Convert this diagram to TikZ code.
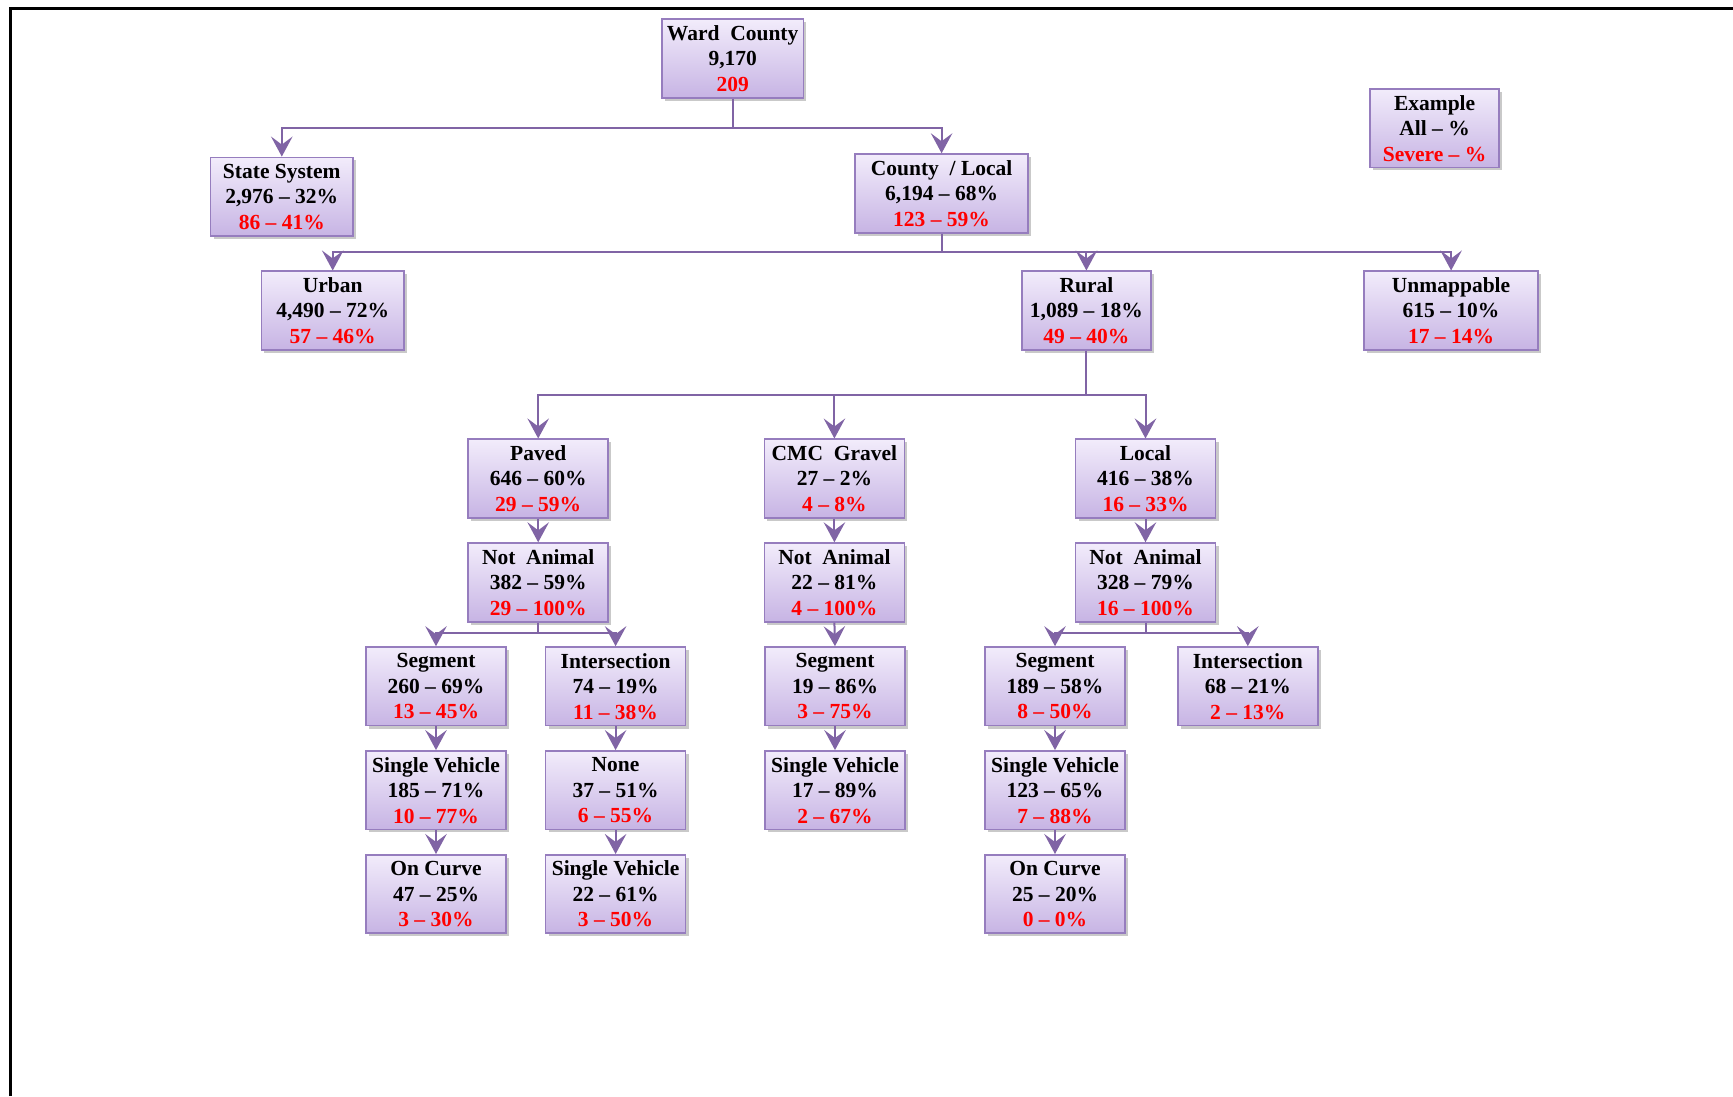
\documentclass[tikz,border=0pt]{standalone}
\usepackage{fontspec}
\setmainfont{Liberation Serif}
\usetikzlibrary{arrows.meta,shadows}
\definecolor{boxtop}{RGB}{242,236,251}
\definecolor{boxbot}{RGB}{199,180,228}
\definecolor{boxline}{RGB}{150,125,190}
\definecolor{connline}{RGB}{128,100,165}
\definecolor{sevred}{RGB}{255,0,0}
\tikzset{
  box/.style={draw=boxline, line width=0.7pt, top color=boxtop, bottom color=boxbot,
    minimum width=56pt, minimum height=31.4pt, inner sep=0pt, align=center,
    font={\fontsize{8.6}{10.2}\selectfont\bfseries},
    drop shadow={shadow xshift=1.2pt, shadow yshift=-1.2pt, opacity=0.35, fill=black!60}},
  conn/.style={draw=connline, line width=0.8pt, -{Stealth[length=8pt,width=8.6pt,inset=3.2pt]}},
  plainconn/.style={draw=connline, line width=0.8pt},
}
\newcommand{\sev}[1]{\textcolor{sevred}{#1}}
\begin{document}
\begin{tikzpicture}[x=0.4pt,y=-0.4pt]
\useasboundingbox (0,0) rectangle (1733,1096);
\fill[white] (0,0) rectangle (1733,1096);
\draw[line width=1.2pt] (10,1096) -- (10,8) -- (1733,8);

% nodes
\node[box, minimum width=56.6pt] (ward) at (732.7,58.6) {Ward~~County\\9,170\\\sev{209}};
\node[box, minimum width=57pt] (state) at (281.8,196.7) {State System\\2,976 – 32\%\\\sev{86 – 41\%}};
\node[box, minimum width=69.4pt] (county) at (941.6,193.4) {County~~/ Local\\6,194 – 68\%\\\sev{123 – 59\%}};
\node[box, minimum width=51.7pt] (example) at (1434.6,128.2) {Example\\All – \%\\\sev{Severe – \%}};
\node[box, minimum width=57pt] (urban) at (332.7,310.6) {Urban\\4,490 – 72\%\\\sev{57 – 46\%}};
\node[box, minimum width=51.7pt] (rural) at (1086.4,310.6) {Rural\\1,089 – 18\%\\\sev{49 – 40\%}};
\node[box, minimum width=69.8pt] (unmap) at (1451.1,310.6) {Unmappable\\615 – 10\%\\\sev{17 – 14\%}};

\node[box] (paved) at (538.2,478.6) {Paved\\646 – 60\%\\\sev{29 – 59\%}};
\node[box] (cmc) at (834.4,478.6) {CMC~~Gravel\\27 – 2\%\\\sev{4 – 8\%}};
\node[box] (local) at (1145.5,478.6) {Local\\416 – 38\%\\\sev{16 – 33\%}};

\node[box] (na1) at (538.2,582.4) {Not~~Animal\\382 – 59\%\\\sev{29 – 100\%}};
\node[box] (na2) at (834.4,582.4) {Not~~Animal\\22 – 81\%\\\sev{4 – 100\%}};
\node[box] (na3) at (1145.5,582.4) {Not~~Animal\\328 – 79\%\\\sev{16 – 100\%}};

\node[box] (seg1) at (436,686.3) {Segment\\260 – 69\%\\\sev{13 – 45\%}};
\node[box] (int1) at (615.6,686.3) {Intersection\\74 – 19\%\\\sev{11 – 38\%}};
\node[box] (seg2) at (835,686.3) {Segment\\19 – 86\%\\\sev{3 – 75\%}};
\node[box] (seg3) at (1055,686.3) {Segment\\189 – 58\%\\\sev{8 – 50\%}};
\node[box] (int3) at (1247.8,686.3) {Intersection\\68 – 21\%\\\sev{2 – 13\%}};

\node[box] (sv1) at (436,790.2) {Single Vehicle\\185 – 71\%\\\sev{10 – 77\%}};
\node[box] (none) at (615.6,790.2) {None\\37 – 51\%\\\sev{6 – 55\%}};
\node[box] (sv2) at (835,790.2) {Single Vehicle\\17 – 89\%\\\sev{2 – 67\%}};
\node[box] (sv3) at (1055,790.2) {Single Vehicle\\123 – 65\%\\\sev{7 – 88\%}};

\node[box] (oc1) at (436,894.1) {On Curve\\47 – 25\%\\\sev{3 – 30\%}};
\node[box] (sv4) at (615.6,894.1) {Single Vehicle\\22 – 61\%\\\sev{3 – 50\%}};
\node[box] (oc3) at (1055,894.1) {On Curve\\25 – 20\%\\\sev{0 – 0\%}};

% junction levels
\coordinate (j1) at (0,128.2);
\coordinate (j2) at (0,252);
\coordinate (j3) at (0,394.6);
\coordinate (j4) at (0,633.3);

% ward county branches
\draw[plainconn] (ward.south) -- (ward.south |- j1);
\draw[conn] (ward.south |- j1) -| (state.north);
\draw[conn] (ward.south |- j1) -| (county.north);

% county/local branches
\draw[plainconn] (county.south) -- (county.south |- j2);
\draw[conn] (county.south |- j2) -| (urban.north);
\draw[conn] (county.south |- j2) -| (rural.north);
\draw[conn] (county.south |- j2) -| (unmap.north);

% rural branches
\draw[plainconn] (rural.south) -- (rural.south |- j3);
\draw[conn] (rural.south |- j3) -| (paved.north);
\draw[conn] (rural.south |- j3) -| (cmc.north);
\draw[conn] (rural.south |- j3) -| (local.north);

% straight chains
\draw[conn] (paved.south) -- (na1.north);
\draw[conn] (cmc.south) -- (na2.north);
\draw[conn] (local.south) -- (na3.north);

\draw[plainconn] (na1.south) -- (na1.south |- j4);
\draw[conn] (na1.south |- j4) -| (seg1.north);
\draw[conn] (na1.south |- j4) -| (int1.north);
\draw[conn] (na2.south) -- (seg2.north);
\draw[plainconn] (na3.south) -- (na3.south |- j4);
\draw[conn] (na3.south |- j4) -| (seg3.north);
\draw[conn] (na3.south |- j4) -| (int3.north);

\draw[conn] (seg1.south) -- (sv1.north);
\draw[conn] (int1.south) -- (none.north);
\draw[conn] (seg2.south) -- (sv2.north);
\draw[conn] (seg3.south) -- (sv3.north);

\draw[conn] (sv1.south) -- (oc1.north);
\draw[conn] (none.south) -- (sv4.north);
\draw[conn] (sv3.south) -- (oc3.north);
\end{tikzpicture}
\end{document}
